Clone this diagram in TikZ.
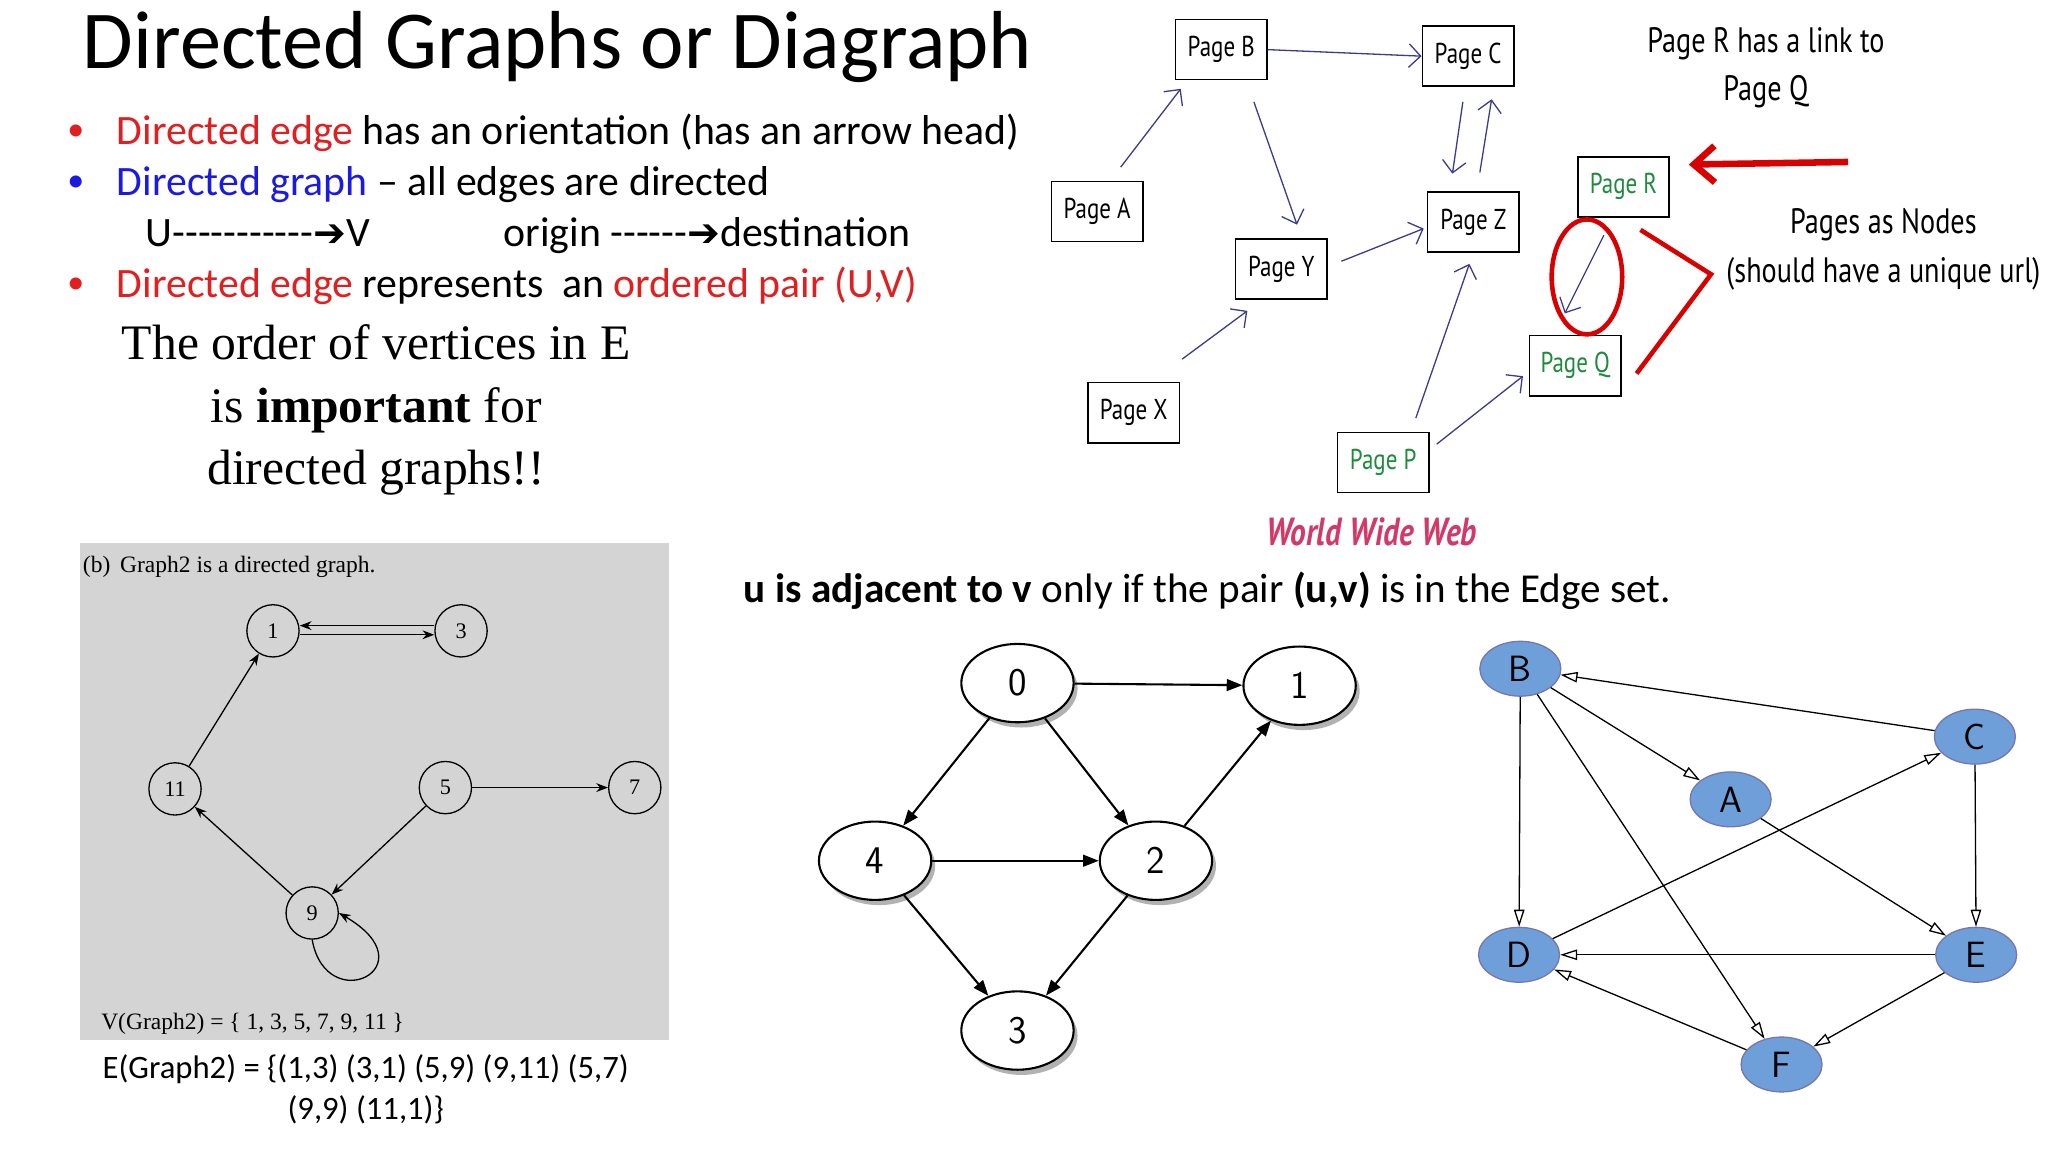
\documentclass[tikz,border=0pt]{standalone}
\usepackage{fontspec}
\setmainfont{Carlito}
\newfontfamily\serif{Liberation Serif}
\newfontfamily\hand[FakeStretch=0.8]{PT Sans}
\newfontfamily\djv{DejaVu Sans}
\usetikzlibrary{arrows.meta,shadows,shapes.geometric}
\definecolor{navy}{HTML}{3B3B8F}
\definecolor{pgreen}{HTML}{1E8A3C}
\definecolor{dred}{HTML}{E02020}
\definecolor{dblue}{HTML}{1A1AE0}
\definecolor{nblue}{HTML}{6F9FD8}
\tikzset{
 pg/.style={draw,line width=1.2pt,minimum width=70pt,minimum height=46pt,font=\hand\fontsize{22}{22}\selectfont,inner sep=2pt},
 wa/.style={navy,line width=1pt,-{Straight Barb[length=9pt]}},
 gc/.style={circle,draw,line width=1pt,minimum size=40pt,inner sep=0pt,font=\serif\fontsize{17}{17}\selectfont},
 ga/.style={line width=1pt,-{Stealth[length=9pt]}},
 mn/.style={ellipse,draw,line width=1.6pt,fill=white,minimum width=86pt,minimum height=60pt,inner sep=0pt,font=\sffamily\fontsize{30}{30}\selectfont,drop shadow={shadow xshift=3pt,shadow yshift=-4pt,fill=black!60}},
 ma/.style={line width=1.6pt,-{Triangle[length=12pt,width=9pt]}},
 bn/.style={ellipse,draw=navy!70,line width=1pt,fill=nblue,minimum width=62pt,minimum height=42pt,inner sep=0pt,font=\sffamily\fontsize{28}{28}\selectfont},
 ba/.style={line width=1pt,-{Triangle[length=13pt,width=8pt,open,fill=white]}},
}
\def\hy{-\kern0pt}
\def\rar{{\djv\fontsize{30}{30}\selectfont ➔}}
\begin{document}
\begin{tikzpicture}[x=1pt,y=-1pt]
\useasboundingbox (0,0) rectangle (1568,882);
% title & bullets
\node[anchor=west,font=\fontsize{63}{63}\selectfont] (title) at (60,36) {Directed Graphs or Diagraph};
\tikzset{bt/.style={anchor=west,font=\fontsize{32}{32}\selectfont}}
\node[bt] (b1) at (86,102) {\textcolor{dred}{Directed edge} has an orientation (has an arrow head)};
\node[bt] (b2) at (86,141) {\textcolor{dblue}{Directed graph} -- all edges are directed};
\node[bt] (b3) at (108,180) {U\hy\hy\hy\hy\hy\hy\hy\hy\hy\hy\hy\rar V \hspace{88pt} origin \hy\hy\hy\hy\hy\hy\rar destination};
\node[bt] (b4) at (86,219) {\textcolor{dred}{Directed edge} represents \ an \textcolor{dred}{ordered pair (U,V)}};
\node[text=dred,font=\fontsize{26}{26}\selectfont] (d1) at (58,102) {•};
\node[text=dblue,font=\fontsize{26}{26}\selectfont] (d2) at (58,141) {•};
\node[text=dred,font=\fontsize{26}{26}\selectfont] (d4) at (58,219) {•};
\node[font=\serif\fontsize{38}{48}\selectfont,align=center] (ord) at (288,314) {The order of vertices in E\\ is \textbf{important} for\\ directed graphs!!};
% WWW
\node[pg] (pB) at (935,38) {Page B};
\node[pg] (pC) at (1124,43) {Page C};
\node[pg] (pA) at (840,162) {Page A};
\node[pg] (pY) at (981,206) {Page Y};
\node[pg] (pZ) at (1128,170) {Page Z};
\node[pg,text=pgreen] (pR) at (1243,143) {Page R};
\node[pg,text=pgreen] (pQ) at (1206,280) {Page Q};
\node[pg] (pX) at (868,316) {Page X};
\node[pg,text=pgreen] (pP) at (1059,354) {Page P};
\coordinate (a1) at (858,128); \coordinate (a2) at (904,68);
\coordinate (b1s) at (960,78); \coordinate (b1e) at (993,172);
\coordinate (c1s) at (1120,78); \coordinate (c1e) at (1112,133);
\coordinate (c2s) at (1133,132); \coordinate (c2e) at (1142,76);
\coordinate (x1) at (905,275); \coordinate (x2) at (955,238);
\coordinate (y1) at (1027,200); \coordinate (y2) at (1090,175);
\coordinate (p1) at (1084,320); \coordinate (p2) at (1125,202);
\coordinate (q1) at (1100,340); \coordinate (q2) at (1166,288);
\coordinate (r1) at (1228,180); \coordinate (r2) at (1198,240);
\draw[wa] (pB.east) -- (pC.west);
\draw[wa] (a1) -- (a2);
\draw[wa] (b1s) -- (b1e);
\draw[wa] (c1s) -- (c1e);
\draw[wa] (c2s) -- (c2e);
\draw[wa] (x1) -- (x2);
\draw[wa] (y1) -- (y2);
\draw[wa] (p1) -- (p2);
\draw[wa] (q1) -- (q2);
\draw[wa] (r1) -- (r2);
\draw[red!85!black,line width=5pt,-{Straight Barb[length=16pt,width=28pt]}] (1415,124) -- (1293,126);
\draw[red!85!black,line width=3.5pt] (1215,212) ellipse [x radius=27,y radius=44];
\draw[red!85!black,line width=3.5pt] (1256,176) -- (1310,210) -- (1253,286);
\node[font=\hand\fontsize{27}{27}\selectfont,align=center] (rq) at (1352,52) {Page R has a link to\\[10pt]Page Q};
\node[font=\hand\fontsize{27}{27}\selectfont,align=center] (pn) at (1442,191) {Pages as Nodes\\[10pt](should have a unique url)};
\node[font=\hand\bfseries\itshape\fontsize{30}{30}\selectfont,text=purple!70!pink] (www) at (1050,407) {World Wide Web};
% gray panel
\fill[black!17] (61,416) rectangle (512,796);
\node[anchor=west,font=\serif\fontsize{18}{18}\selectfont] (cap) at (60,434) {(b)\, Graph2 is a directed graph.};
\node[anchor=west,font=\serif\fontsize{18}{18}\selectfont] (vg) at (74,784) {V(Graph2) = \{ 1, 3, 5, 7, 9, 11 \}};
\node[gc] (g1) at (209,483) {1};
\node[gc] (g3) at (353,483) {3};
\node[gc] (g11) at (134,604) {11};
\node[gc] (g5) at (341,603) {5};
\node[gc] (g7) at (486,603) {7};
\node[gc] (g9) at (239,699) {9};
\draw[ga] ([yshift=-3pt]g1.east) -- ([yshift=-3pt]g3.west);
\draw[ga] ([yshift=4pt]g3.west) -- ([yshift=4pt]g1.east);
\draw[ga] (g11) -- (g1);
\draw[ga] (g5) -- (g7);
\draw[ga] (g5) -- (g9);
\draw[ga] (g9) -- (g11);
\draw[ga] (g9.south) .. controls (250,780) and (330,740) .. (g9.east);
\node[font=\fontsize{25}{32}\selectfont,align=center] (eg) at (280,834) {E(Graph2) = \{(1,3) (3,1) (5,9) (9,11) (5,7)\\(9,9) (11,1)\}};
% adjacency text
\node[anchor=west,font=\fontsize{31.5}{31.5}\selectfont] (adj) at (566,452) {\textbf{u is adjacent to v} only if the pair \textbf{(u,v)} is in the Edge set.};
% middle graph
\node[mn] (m0) at (779,523) {0};
\node[mn] (m1) at (995,525) {1};
\node[mn] (m4) at (670,659) {4};
\node[mn] (m2) at (885,659) {2};
\node[mn] (m3) at (779,789) {3};
\draw[ma] (m0) -- (m1);
\draw[ma] (m0) -- (m4);
\draw[ma] (m0) -- (m2);
\draw[ma] (m4) -- (m2);
\draw[ma] (m4) -- (m3);
\draw[ma] (m2) -- (m3);
\draw[ma] (m2) -- (m1);
% right graph
\node[bn] (nB) at (1164,512) {B};
\node[bn] (nC) at (1512,564) {C};
\node[bn] (nA) at (1325,612) {A};
\node[bn] (nD) at (1163,731) {D};
\node[bn] (nE) at (1513,731) {E};
\node[bn] (nF) at (1364,815) {F};
\draw[ba] (nC) -- (nB);
\draw[ba] (nB) -- (nA);
\draw[ba] (nB) -- (nD);
\draw[ba] (nB) -- (nF);
\draw[ba] (nA) -- (nE);
\draw[ba] (nC) -- (nE);
\draw[ba] (nD) -- (nC);
\draw[ba] (nE) -- (nD);
\draw[ba] (nE) -- (nF);
\draw[ba] (nF) -- (nD);
\end{tikzpicture}
\end{document}
